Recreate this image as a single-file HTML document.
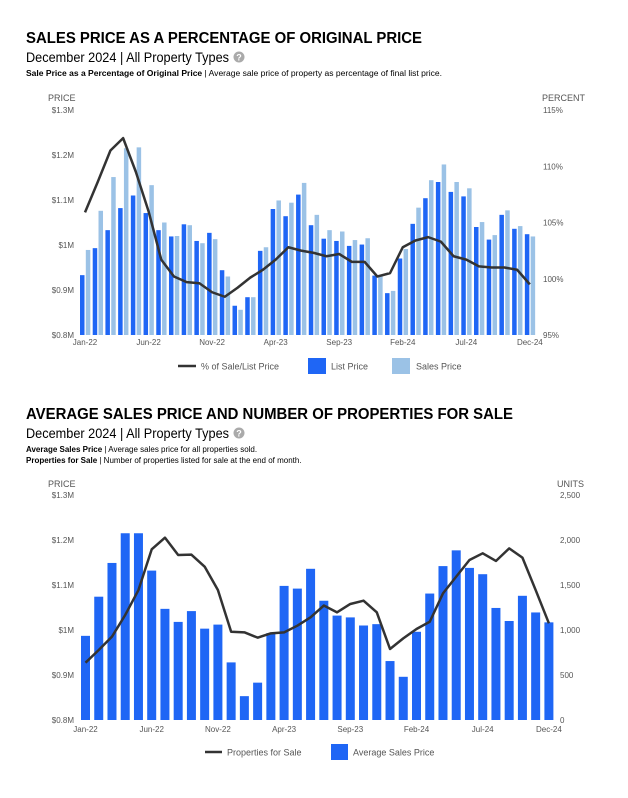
<!DOCTYPE html>
<html><head><meta charset="utf-8"><style>
html,body{margin:0;padding:0;background:#fff;}
svg{display:block;font-family:"Liberation Sans",Arial,sans-serif;}
</style></head><body>
<svg id="root" width="628" height="798" viewBox="0 0 628 798">
<g>
<text x="26" y="43" font-size="16" font-weight="bold" fill="#000" textLength="396" lengthAdjust="spacingAndGlyphs">SALES PRICE AS A PERCENTAGE OF ORIGINAL PRICE</text>
<text x="26" y="62" font-size="14" fill="#000" textLength="203" lengthAdjust="spacingAndGlyphs">December 2024 | All Property Types</text>
<g><circle cx="239" cy="57" r="5.5" fill="#aaa"/><text x="239" y="60.5" font-size="9" font-weight="bold" fill="#fff" text-anchor="middle">?</text></g>
<text x="26" y="76" font-size="8" fill="#000" textLength="416" lengthAdjust="spacingAndGlyphs"><tspan font-weight="bold">Sale Price as a Percentage of Original Price</tspan> | Average sale price of property as percentage of final list price.</text>
</g>
<g id="c1"></g>
<g>
<text x="26" y="419" font-size="16" font-weight="bold" fill="#000" textLength="487" lengthAdjust="spacingAndGlyphs">AVERAGE SALES PRICE AND NUMBER OF PROPERTIES FOR SALE</text>
<text x="26" y="438" font-size="14" fill="#000" textLength="203" lengthAdjust="spacingAndGlyphs">December 2024 | All Property Types</text>
<g><circle cx="239" cy="433" r="5.5" fill="#aaa"/><text x="239" y="436.5" font-size="9" font-weight="bold" fill="#fff" text-anchor="middle">?</text></g>
<text x="26" y="452" font-size="8" fill="#000"><tspan font-weight="bold">Average Sales Price</tspan> | Average sales price for all properties sold.</text>
<text x="26" y="463" font-size="8" fill="#000"><tspan font-weight="bold">Properties for Sale</tspan> | Number of properties listed for sale at the end of month.</text>
</g>
<g id="c2"></g>
</svg>
<script>
const months = ["Jan-22","Feb-22","Mar-22","Apr-22","May-22","Jun-22","Jul-22","Aug-22","Sep-22","Oct-22","Nov-22","Dec-22","Jan-23","Feb-23","Mar-23","Apr-23","May-23","Jun-23","Jul-23","Aug-23","Sep-23","Oct-23","Nov-23","Dec-23","Jan-24","Feb-24","Mar-24","Apr-24","May-24","Jun-24","Jul-24","Aug-24","Sep-24","Oct-24","Nov-24","Dec-24"];
const xTickLabels = ["Jan-22","Jun-22","Nov-22","Apr-23","Sep-23","Feb-24","Jul-24","Dec-24"];
const listPrice = [0.933,0.993,1.033,1.082,1.110,1.071,1.033,1.019,1.046,1.009,1.027,0.944,0.865,0.884,0.987,1.080,1.064,1.112,1.044,1.014,1.009,0.998,1.001,0.932,0.893,0.970,1.047,1.104,1.140,1.118,1.108,1.040,1.012,1.067,1.036,1.024];
const salesPrice1 = [0.989,1.076,1.151,1.215,1.217,1.133,1.050,1.020,1.044,1.004,1.013,0.930,0.856,0.884,0.995,1.099,1.094,1.138,1.067,1.033,1.030,1.011,1.015,0.932,0.898,0.991,1.083,1.144,1.179,1.140,1.126,1.051,1.022,1.077,1.042,1.019];
const pctSaleList = [105.9,108.6,111.4,112.5,109.5,106.0,101.7,100.2,99.7,99.6,98.8,98.4,99.2,100.1,100.8,101.7,102.8,102.5,102.3,102.0,102.2,101.5,101.5,100.2,100.5,102.8,103.4,103.7,103.3,102.0,101.7,101.1,101.0,101.0,100.8,99.5];
const avgSalesPrice = [0.987,1.074,1.149,1.215,1.215,1.132,1.047,1.018,1.042,1.003,1.012,0.928,0.853,0.883,0.993,1.098,1.092,1.136,1.065,1.032,1.028,1.010,1.013,0.931,0.896,0.996,1.081,1.142,1.177,1.138,1.124,1.049,1.020,1.076,1.039,1.017];
const propertiesForSale = [637,778,926,1167,1444,1896,2026,1833,1837,1704,1444,981,974,915,963,974,1048,1141,1272,1196,1289,1326,1196,789,907,1011,1092,1407,1593,1778,1852,1767,1907,1804,1444,1074];
const priceTicks = [0.8,0.9,1.0,1.1,1.2,1.3];
const priceTickLabels = ["$0.8M","$0.9M","$1M","$1.1M","$1.2M","$1.3M"];
const pctTicks = [95,100,105,110,115];
const pctTickLabels = ["95%","100%","105%","110%","115%"];
const unitTicks = [0,500,1000,1500,2000,2500];
const unitTickLabels = ["0","500","1,000","1,500","2,000","2,500"];

const NS="http://www.w3.org/2000/svg";
function mk(parent,tag,attrs,txt){const e=document.createElementNS(NS,tag);for(const k in attrs)e.setAttribute(k,attrs[k]);if(txt!==undefined)e.textContent=txt;parent.appendChild(e);return e;}

// Chart 1
(function(){
const g=document.getElementById('c1');
const top=110,bot=335;
const x=i=>85+i*12.71;
const yP=v=>bot-(v-0.8)/0.5*(bot-top);
const yR=v=>bot-(v-95)/20*(bot-top);
let t=mk(g,'text',{x:48,y:101,'font-size':9,fill:'#555'},'PRICE');


t=mk(g,'text',{x:585,y:101,'font-size':9,fill:'#555','text-anchor':'end'},'PERCENT');


priceTicks.forEach((v,i)=>{const e=mk(g,'text',{x:74,y:yP(v)+3,'font-size':8,fill:'#555','text-anchor':'end'},priceTickLabels[i]);

});
pctTicks.forEach((v,i)=>{const e=mk(g,'text',{x:543,y:yR(v)+3,'font-size':8,fill:'#555'},pctTickLabels[i]);

});
months.forEach((m,i)=>{
 const b=mk(g,'rect',{x:x(i)-5,y:yP(listPrice[i]),width:4.5,height:bot-yP(listPrice[i]),fill:'#1f66f5'});
 
 
 const s=mk(g,'rect',{x:x(i)+0.8,y:yP(salesPrice1[i]),width:4.5,height:bot-yP(salesPrice1[i]),fill:'#9bc2e6'});
 
 
});
const pts=pctSaleList.map((v,i)=>x(i)+','+yR(v)).join(' ');
const l=mk(g,'polyline',{points:pts,fill:'none',stroke:'#333','stroke-width':2.5,'stroke-linejoin':'round'});


xTickLabels.forEach(lbl=>{const i=months.indexOf(lbl);const e=mk(g,'text',{x:x(i),y:345,'font-size':8,fill:'#555','text-anchor':'middle'},lbl);

});
const lg=mk(g,'g',{});


let a=mk(lg,'line',{x1:178,x2:196,y1:366,y2:366,stroke:'#333','stroke-width':2.5});


a=mk(lg,'text',{x:201,y:369.5,'font-size':9,fill:'#555'},'% of Sale/List Price');


a=mk(lg,'rect',{x:308,y:358,width:18,height:16,fill:'#1f66f5'});


a=mk(lg,'text',{x:331,y:369.5,'font-size':9,fill:'#555'},'List Price');


a=mk(lg,'rect',{x:392,y:358,width:18,height:16,fill:'#9bc2e6'});


a=mk(lg,'text',{x:416,y:369.5,'font-size':9,fill:'#555'},'Sales Price');


})();

// Chart 2
(function(){
const g=document.getElementById('c2');
const top=495,bot=720;
const x=i=>85.5+i*13.24;
const yP=v=>bot-(v-0.8)/0.5*(bot-top);
const yU=v=>bot-v/2500*(bot-top);
let t=mk(g,'text',{x:48,y:487,'font-size':9,fill:'#555'},'PRICE');


t=mk(g,'text',{x:584,y:487,'font-size':9,fill:'#555','text-anchor':'end'},'UNITS');


priceTicks.forEach((v,i)=>{const e=mk(g,'text',{x:74,y:yP(v)+3,'font-size':8,fill:'#555','text-anchor':'end'},priceTickLabels[i]);

});
unitTicks.forEach((v,i)=>{const e=mk(g,'text',{x:560,y:yU(v)+3,'font-size':8,fill:'#555'},unitTickLabels[i]);

});
months.forEach((m,i)=>{
 const b=mk(g,'rect',{x:x(i)-4.5,y:yP(avgSalesPrice[i]),width:9,height:bot-yP(avgSalesPrice[i]),fill:'#1f66f5'});
 
 
});
const pts=propertiesForSale.map((v,i)=>x(i)+','+yU(v)).join(' ');
const l=mk(g,'polyline',{points:pts,fill:'none',stroke:'#333','stroke-width':2.5,'stroke-linejoin':'round'});


xTickLabels.forEach(lbl=>{const i=months.indexOf(lbl);const e=mk(g,'text',{x:x(i),y:732,'font-size':8,fill:'#555','text-anchor':'middle'},lbl);

});
const lg=mk(g,'g',{});


let a=mk(lg,'line',{x1:205,x2:222,y1:752,y2:752,stroke:'#333','stroke-width':2.5});


a=mk(lg,'text',{x:227,y:755.5,'font-size':9,fill:'#555'},'Properties for Sale');


a=mk(lg,'rect',{x:331,y:744,width:17,height:16,fill:'#1f66f5'});


a=mk(lg,'text',{x:353,y:755.5,'font-size':9,fill:'#555'},'Average Sales Price');


})();
</script>
</body></html>
